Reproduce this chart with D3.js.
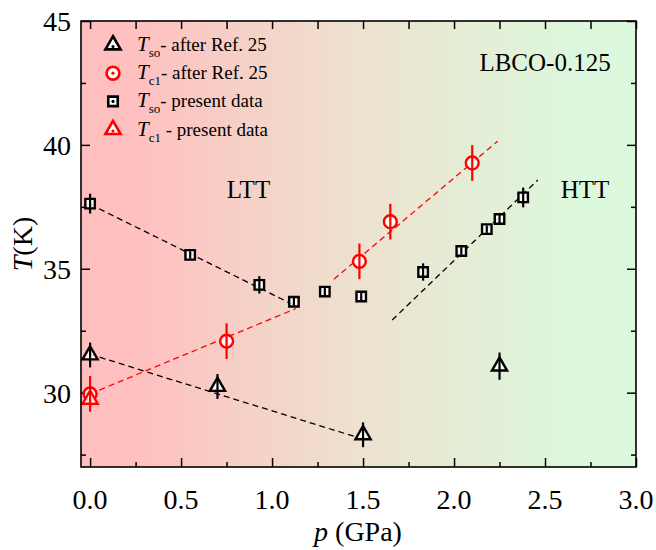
<html lang="en">
<head>
<meta charset="UTF-8">
<title>LBCO-0.125</title>
<style>
  body { margin: 0; background: #fff; }
  svg text, svg tspan { font-family: "Liberation Serif", "DejaVu Serif", serif; }
</style>
</head>
<body>
<script src="https://d3js.org/d3.v7.min.js"></script>
<div id="my_dataviz"></div>
<script>

// data
var pTso25 = [0, 0.7, 1.5, 2.25];
var tTso25 = [31.52, 30.25, 28.3, 31.07];
var eTso25 = [0.5, 0.5, 0.5, 0.55];

var pTc25 = [0, 0.75, 1.48, 1.65, 2.1];
var tTc25 = [29.95, 32.08, 35.3, 36.9, 39.27];
var eTc25 = [0.72, 0.72, 0.72, 0.72, 0.72];

var pTsoNow = [0, 0.55, 0.93, 1.12, 1.29, 1.49, 1.83, 2.04, 2.18, 2.25, 2.38];
var tTsoNow = [37.63, 35.56, 34.35, 33.67, 34.08, 33.88, 34.87, 35.72, 36.6, 37.01, 37.88];
var eTsoNow = [0.4, 0.15, 0.35, 0.15, 0.15, 0.15, 0.35, 0.15, 0.15, 0.2, 0.4];

var pTcNow = [0];
var tTcNow = [29.73];
var eTcNow = [0.3];

// dashed guide lines: [p0, p1], [T0, T1]
var fitsP = [[0, 1.13], [0, 1.48], [0, 1.13], [1.34, 2.24], [1.66, 2.46]];
var fitsT = [[37.6, 33.5], [31.55, 28.17], [29.95, 33.39], [34.58, 40.15], [32.93, 38.58]];
var fitsColor = ["black", "black", "red", "red", "black"];

var xTicks = [0, 0.5, 1.0, 1.5, 2.0, 2.5, 3.0];
var xMinor = [0.25, 0.75, 1.25, 1.75, 2.25, 2.75];
var yTicks = [30, 35, 40, 45];
var yMinor = [27.5, 32.5, 37.5, 42.5];

var W = 656, H = 550;
var margin = {top: 21, right: 20, bottom: 83, left: 81};
var width = 636 - margin.left, height = 467 - margin.top;

var svg = d3.select("#my_dataviz").append("svg")
    .attr("width", W).attr("height", H)
    .attr("font-family", "Liberation Serif, serif");

var g = svg.append("g")
    .attr("transform", "translate(" + margin.left + "," + margin.top + ")");

var x = d3.scaleLinear().domain([-0.05, 3.0]).range([0, width]);
var y = d3.scaleLinear().domain([27, 45]).range([height, 0]);

// background gradient LTT -> HTT
var grad = svg.append("defs").append("linearGradient")
    .attr("id", "bg").attr("x1", "0%").attr("x2", "100%");
grad.append("stop").attr("offset", "0%").attr("stop-color", "#ffbfbf");
grad.append("stop").attr("offset", "10%").attr("stop-color", "#ffc0c0");
grad.append("stop").attr("offset", "52%").attr("stop-color", "#ece3d0");
grad.append("stop").attr("offset", "90%").attr("stop-color", "#dcf8dc");
grad.append("stop").attr("offset", "100%").attr("stop-color", "#dcf9dc");

g.append("rect").attr("width", width).attr("height", height).attr("fill", "url(#bg)");

// ticks, inward on all four sides
function tickAxis(axis, vals, len) {
  return axis.tickValues(vals).tickSize(-len).tickFormat("");
}
g.append("g").attr("transform", "translate(0," + height + ")")
  .call(tickAxis(d3.axisBottom(x), xTicks, 9));
g.append("g").attr("transform", "translate(0," + height + ")")
  .call(tickAxis(d3.axisBottom(x), xMinor, 5));
g.append("g").call(tickAxis(d3.axisTop(x), xTicks.concat(xMinor), 8));
g.append("g").call(tickAxis(d3.axisLeft(y), yTicks, 9));
g.append("g").call(tickAxis(d3.axisLeft(y), yMinor, 5));
g.append("g").attr("transform", "translate(" + width + ",0)")
  .call(tickAxis(d3.axisRight(y), yTicks, 9));
g.append("g").attr("transform", "translate(" + width + ",0)")
  .call(tickAxis(d3.axisRight(y), yMinor, 5));
g.selectAll(".domain").remove();
g.selectAll(".tick line").attr("stroke", "black").attr("stroke-width", 1.5);

// tick labels
g.selectAll(".xlab").data(xTicks).enter().append("text")
    .attr("x", function(d) { return x(d); })
    .attr("y", height + 42)
    .attr("text-anchor", "middle")
    .style("font-size", "28px")
    .text(function(d) { return d.toFixed(1); });
g.selectAll(".ylab").data(yTicks).enter().append("text")
    .attr("x", -10)
    .attr("y", function(d) { return y(d) + 10; })
    .attr("text-anchor", "end")
    .style("font-size", "28px")
    .text(function(d) { return d; });

// axis titles
var xt = svg.append("text").attr("x", 358).attr("y", 541)
    .attr("text-anchor", "middle").style("font-size", "28px");
xt.append("tspan").style("font-style", "italic").text("p");
xt.append("tspan").text(" (GPa)");

var yt = svg.append("text").attr("transform", "translate(32,244) rotate(-90)")
    .attr("text-anchor", "middle").style("font-size", "28px");
yt.append("tspan").style("font-style", "italic").text("T");
yt.append("tspan").text("(K)");

// dashed guides
g.selectAll(".fit").data(fitsP).enter().append("line")
    .attr("x1", function(d) { return x(d[0]); })
    .attr("x2", function(d) { return x(d[1]); })
    .attr("y1", function(d, i) { return y(fitsT[i][0]); })
    .attr("y2", function(d, i) { return y(fitsT[i][1]); })
    .attr("stroke", function(d, i) { return fitsColor[i]; })
    .attr("stroke-width", 1.3)
    .attr("stroke-dasharray", "6,4");

// region labels
g.append("text").attr("x", x(0.87)).attr("y", y(38.2) + 9).attr("text-anchor", "middle")
    .style("font-size", "25px").text("LTT");
g.append("text").attr("x", x(2.72)).attr("y", y(38.2) + 9).attr("text-anchor", "middle")
    .style("font-size", "25px").text("HTT");
g.append("text").attr("x", x(2.5)).attr("y", y(43.35) + 9).attr("text-anchor", "middle")
    .style("font-size", "25px").text("LBCO-0.125");

// symbols
var tri = d3.symbol().type(d3.symbolTriangle).size(100);
var sq = d3.symbol().type(d3.symbolSquare).size(90);
var circ = d3.symbol().type(d3.symbolCircle).size(130);

function series(ps, ts, es, sym, color) {
  var s = g.append("g");
  var pts = ps.map(function(p, i) { return {p: p, t: ts[i], e: es[i]}; });
  s.selectAll("path").data(pts).enter().append("path")
      .attr("d", sym)
      .attr("transform", function(d) { return "translate(" + x(d.p) + "," + y(d.t) + ")"; })
      .attr("fill", "white").attr("fill-opacity", 0.85)
      .attr("stroke", color).attr("stroke-width", 2.4);
  s.selectAll("line").data(pts).enter().append("line")
      .attr("x1", function(d) { return x(d.p); })
      .attr("x2", function(d) { return x(d.p); })
      .attr("y1", function(d) { return y(d.t - d.e); })
      .attr("y2", function(d) { return y(d.t + d.e); })
      .attr("stroke", color).attr("stroke-width", 2.2);
}
series(pTsoNow, tTsoNow, eTsoNow, sq, "black");
series(pTso25, tTso25, eTso25, tri, "black");
series(pTc25, tTc25, eTc25, circ, "red");
series(pTcNow, tTcNow, eTcNow, tri, "red");

// frame
g.append("rect").attr("width", width).attr("height", height)
    .attr("fill", "none").attr("stroke", "black").attr("stroke-width", 1.6);

// legend
var legSym = [tri, circ, sq, tri];
var legCol = ["black", "red", "black", "red"];
var legSub = ["so", "c1", "so", "c1"];
var legTxt = ["- after Ref. 25", "- after Ref. 25", "- present data", " - present data"];
var leg = svg.append("g");
legSym.forEach(function(sym, i) {
  var cy = 45 + i * 28.2;
  leg.append("path").attr("d", sym)
      .attr("transform", "translate(113," + cy + ")")
      .attr("fill", "white").attr("stroke", legCol[i]).attr("stroke-width", 2.6);
  leg.append("circle").attr("cx", 113).attr("cy", cy + (i % 3 === 0 ? 1.5 : 0)).attr("r", 1.6)
      .attr("fill", legCol[i]);
  var t = leg.append("text").attr("x", 137).attr("y", cy + 6).style("font-size", "19px");
  t.append("tspan").style("font-style", "italic").style("font-size", "21px").text("T");
  t.append("tspan").attr("dy", 6).style("font-size", "13px").text(legSub[i]);
  t.append("tspan").attr("dy", -6).text(legTxt[i]);
});

</script>
</body>
</html>
